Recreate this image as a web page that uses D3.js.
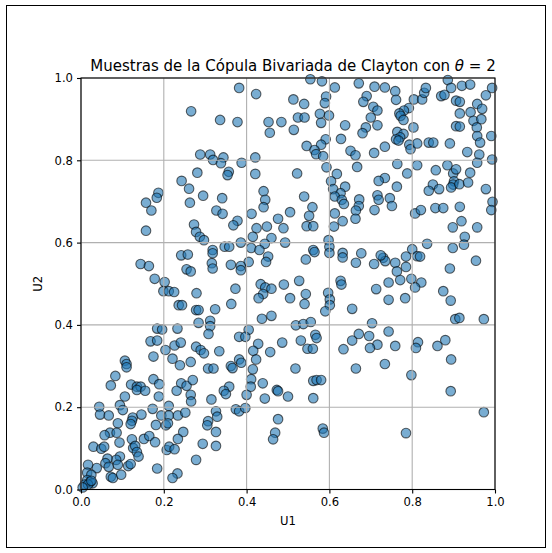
<!DOCTYPE html>
<html>
<head>
<meta charset="utf-8">
<script src="https://cdn.jsdelivr.net/npm/d3@7"></script>
<style>
  body { margin: 0; background: #fff; }
  svg text { font-family: "DejaVu Sans", sans-serif; fill: #000; }
</style>
</head>
<body>
<div id="chart"></div>
<script>
// chart text
const TITLE = "Muestras de la Cópula Bivariada de Clayton con ";
const X_LABEL = "U1";
const Y_LABEL = "U2";
const TICKS = [0.0, 0.2, 0.4, 0.6, 0.8, 1.0];

// samples [U1, U2]
const samples = [
[0.266,0.919],[0.288,0.814],[0.312,0.814],[0.319,0.801],[0.281,0.770],[0.243,0.750],[0.261,0.731],[0.187,0.721],
[0.183,0.709],[0.157,0.697],[0.170,0.678],[0.263,0.697],[0.295,0.714],[0.327,0.678],
[0.554,0.997],[0.582,0.992],[0.613,0.977],[0.382,0.976],[0.423,0.961],[0.513,0.948],[0.539,0.937],[0.592,0.955],
[0.589,0.939],[0.336,0.898],[0.378,0.893],[0.453,0.893],[0.484,0.893],[0.456,0.867],[0.514,0.874],[0.524,0.904],
[0.540,0.904],[0.577,0.913],[0.599,0.909],[0.580,0.891],[0.638,0.885],[0.628,0.852],[0.591,0.851],[0.580,0.838],
[0.545,0.835],[0.564,0.825],[0.568,0.815],[0.585,0.810],[0.651,0.823],[0.663,0.812],[0.344,0.807],[0.338,0.793],
[0.388,0.794],[0.421,0.807],[0.421,0.767],[0.357,0.772],[0.354,0.764],[0.522,0.768],[0.593,0.783],[0.618,0.767],
[0.604,0.749],[0.638,0.736],[0.609,0.730],[0.627,0.720],[0.613,0.712],[0.630,0.704],[0.635,0.694],[0.441,0.725],
[0.445,0.704],[0.441,0.686],[0.341,0.708],[0.342,0.670],[0.412,0.670],[0.476,0.658],[0.505,0.674],[0.539,0.712],
[0.559,0.686],[0.613,0.671],
[0.671,0.987],[0.709,0.979],[0.690,0.956],[0.682,0.942],[0.706,0.930],[0.716,0.921],[0.700,0.904],[0.716,0.885],
[0.688,0.880],[0.680,0.866],[0.734,0.977],[0.759,0.968],[0.761,0.947],[0.792,0.927],[0.780,0.921],[0.769,0.914],
[0.772,0.908],[0.779,0.898],[0.804,0.948],[0.824,0.948],[0.829,0.964],[0.833,0.976],[0.803,0.880],[0.764,0.869],
[0.779,0.864],[0.771,0.856],[0.761,0.851],[0.767,0.848],[0.734,0.833],[0.708,0.818],[0.793,0.838],[0.796,0.827],
[0.812,0.841],[0.840,0.843],[0.851,0.843],[0.891,0.841],[0.886,0.995],[0.870,0.956],[0.878,0.959],[0.894,0.976],
[0.920,0.981],[0.940,0.984],[0.993,0.976],[0.978,0.958],[0.906,0.945],[0.915,0.942],[0.957,0.937],[0.969,0.925],
[0.941,0.917],[0.915,0.914],[0.948,0.896],[0.967,0.900],[0.956,0.880],[0.906,0.883],[0.915,0.882],[0.957,0.859],
[0.964,0.843],[0.991,0.859],[0.933,0.820],[0.962,0.814],[0.957,0.794],[0.993,0.802],[0.667,0.784],[0.764,0.791],
[0.788,0.768],[0.812,0.788],[0.857,0.776],[0.885,0.788],[0.899,0.768],[0.906,0.778],[0.940,0.770],[0.734,0.757],
[0.719,0.750],[0.763,0.736],[0.850,0.741],[0.840,0.726],[0.865,0.730],[0.901,0.749],[0.899,0.741],[0.894,0.734],
[0.914,0.742],[0.935,0.746],[0.978,0.730],[0.716,0.715],[0.719,0.704],[0.746,0.708],[0.751,0.689],[0.672,0.705],
[0.671,0.689],[0.664,0.678],[0.709,0.679],[0.807,0.671],[0.821,0.679],[0.856,0.684],[0.875,0.684],[0.915,0.687],
[0.994,0.699],[0.991,0.679],
[0.157,0.629],[0.273,0.644],[0.278,0.626],[0.287,0.614],[0.297,0.606],[0.318,0.582],[0.318,0.574],[0.242,0.569],
[0.258,0.571],[0.144,0.548],[0.164,0.543],[0.316,0.550],[0.318,0.537],[0.255,0.535],[0.265,0.530],[0.178,0.512],
[0.202,0.504],[0.199,0.482],[0.212,0.482],[0.225,0.480],[0.279,0.477],[0.236,0.448],[0.244,0.448],[0.278,0.436],
[0.284,0.436],[0.324,0.438],[0.312,0.410],[0.284,0.405],[0.312,0.397],[0.308,0.378],[0.184,0.391],[0.196,0.389],
[0.233,0.391],[0.168,0.360],[0.184,0.362],[0.204,0.339],[0.226,0.350],[0.241,0.357],[0.278,0.347],[0.289,0.339],
[0.297,0.331],[0.334,0.336],
[0.551,0.665],[0.663,0.658],[0.632,0.652],[0.378,0.653],[0.368,0.642],[0.424,0.635],[0.449,0.639],[0.489,0.635],
[0.545,0.640],[0.561,0.640],[0.611,0.639],[0.415,0.614],[0.460,0.611],[0.493,0.600],[0.386,0.600],[0.444,0.597],
[0.347,0.590],[0.358,0.590],[0.411,0.587],[0.431,0.582],[0.452,0.566],[0.447,0.553],[0.405,0.553],[0.362,0.546],
[0.386,0.543],[0.386,0.533],[0.543,0.559],[0.561,0.582],[0.564,0.577],[0.598,0.606],[0.600,0.590],[0.600,0.575],
[0.632,0.575],[0.632,0.564],[0.664,0.551],[0.527,0.507],[0.490,0.498],[0.434,0.499],[0.445,0.491],[0.460,0.488],
[0.440,0.475],[0.429,0.465],[0.373,0.488],[0.505,0.465],[0.543,0.475],[0.540,0.451],[0.597,0.478],[0.601,0.462],
[0.601,0.448],[0.590,0.433],[0.627,0.507],[0.629,0.498],[0.655,0.439],[0.363,0.451],[0.437,0.415],[0.460,0.422],
[0.519,0.399],[0.537,0.402],[0.555,0.407],[0.405,0.388],[0.382,0.371],[0.397,0.371],[0.428,0.354],[0.486,0.357],
[0.531,0.362],[0.566,0.376],[0.569,0.368],[0.547,0.342],[0.560,0.342],[0.634,0.341],[0.655,0.362],[0.416,0.337],
[0.457,0.334],
[0.898,0.637],[0.919,0.652],[0.957,0.637],[0.927,0.614],[0.925,0.595],[0.898,0.587],[0.836,0.597],[0.800,0.584],
[0.812,0.567],[0.819,0.566],[0.785,0.566],[0.785,0.541],[0.759,0.551],[0.763,0.530],[0.730,0.563],[0.735,0.555],
[0.724,0.569],[0.708,0.548],[0.677,0.574],[0.954,0.556],[0.891,0.537],[0.771,0.509],[0.798,0.512],[0.822,0.503],
[0.807,0.491],[0.743,0.503],[0.713,0.487],[0.743,0.461],[0.783,0.465],[0.875,0.482],[0.893,0.459],[0.904,0.414],
[0.914,0.417],[0.973,0.414],[0.703,0.404],[0.671,0.378],[0.696,0.373],[0.743,0.384],[0.716,0.352],[0.698,0.344],
[0.759,0.349],[0.814,0.358],[0.809,0.344],[0.861,0.349],[0.880,0.363],
[0.106,0.313],[0.110,0.305],[0.110,0.297],[0.175,0.323],[0.221,0.318],[0.239,0.302],[0.265,0.310],[0.307,0.294],
[0.320,0.294],[0.083,0.276],[0.072,0.253],[0.121,0.255],[0.135,0.250],[0.144,0.250],[0.135,0.242],[0.155,0.240],
[0.175,0.268],[0.189,0.256],[0.242,0.258],[0.231,0.240],[0.255,0.252],[0.270,0.266],[0.265,0.230],[0.266,0.214],
[0.315,0.219],[0.106,0.226],[0.188,0.226],[0.044,0.201],[0.094,0.205],[0.101,0.193],[0.046,0.182],[0.067,0.180],
[0.125,0.175],[0.123,0.167],[0.146,0.182],[0.173,0.196],[0.194,0.180],[0.212,0.203],[0.212,0.180],[0.234,0.180],
[0.252,0.187],[0.326,0.190],[0.329,0.177],[0.089,0.161],[0.120,0.159],[0.181,0.157],[0.205,0.156],[0.210,0.161],
[0.070,0.138],[0.086,0.138],[0.057,0.132],[0.093,0.114],[0.123,0.122],[0.152,0.123],[0.165,0.130],[0.179,0.115],
[0.247,0.140],[0.234,0.123],[0.307,0.166],[0.305,0.156],[0.326,0.140],[0.294,0.111],[0.326,0.106],[0.030,0.104],
[0.049,0.099],[0.056,0.104],[0.126,0.101],[0.131,0.106],[0.135,0.091],[0.139,0.080],[0.207,0.096],[0.213,0.104],
[0.226,0.098],[0.278,0.072],[0.094,0.080],[0.085,0.072],[0.064,0.075],[0.059,0.064],[0.067,0.055],[0.089,0.060],
[0.114,0.057],[0.120,0.062],[0.038,0.052],[0.017,0.060],[0.015,0.041],[0.025,0.036],[0.072,0.031],[0.077,0.028],
[0.097,0.036],[0.184,0.051],[0.233,0.039],[0.221,0.028],[0.015,0.023],[0.022,0.018],[0.028,0.015],[0.009,0.012],
[0.017,0.012],[0.004,0.005],[0.025,0.021],
[0.664,0.294],[0.382,0.316],[0.387,0.308],[0.423,0.316],[0.362,0.300],[0.366,0.295],[0.415,0.292],[0.518,0.294],
[0.411,0.268],[0.410,0.250],[0.439,0.258],[0.358,0.250],[0.345,0.240],[0.350,0.232],[0.400,0.230],[0.473,0.242],
[0.476,0.239],[0.500,0.226],[0.444,0.221],[0.561,0.264],[0.569,0.266],[0.580,0.266],[0.561,0.222],[0.374,0.195],
[0.382,0.190],[0.397,0.198],[0.476,0.171],[0.469,0.138],[0.464,0.122],[0.584,0.148],[0.587,0.138],
[0.894,0.316],[0.734,0.305],[0.798,0.278],[0.893,0.239],[0.973,0.188],[0.785,0.137]
];

// frame
const W = 552, H = 553;
const PLOT = {left: 81, right: 495, top: 78, bottom: 489.5};

const svg = d3.select("#chart")
  .append("svg")
    .attr("width", W)
    .attr("height", H);

// thin border round the whole figure
svg.append("rect")
  .attr("x", 6.5).attr("y", 5.5)
  .attr("width", 539).attr("height", 542)
  .attr("fill", "none")
  .attr("stroke", "#000")
  .attr("stroke-width", 1);

const X_SCALE = d3.scaleLinear().domain([0, 1]).range([PLOT.left, PLOT.right]);
const Y_SCALE = d3.scaleLinear().domain([0, 1]).range([PLOT.bottom, PLOT.top]);

// points
svg.append("g")
  .selectAll("circle")
  .data(samples)
  .enter()
  .append("circle")
    .attr("cx", d => X_SCALE(d[0]))
    .attr("cy", d => Y_SCALE(d[1]))
    .attr("r", 4.8)
    .attr("fill", "#1f77b4")
    .attr("fill-opacity", 0.6)
    .attr("stroke", "#000")
    .attr("stroke-opacity", 0.6)
    .attr("stroke-width", 1.1);

// grid (matplotlib draws it over the points)
const grid = svg.append("g").attr("stroke", "#b0b0b0").attr("stroke-width", 1.1);
grid.selectAll(".gx")
  .data(TICKS)
  .enter()
  .append("line")
    .attr("x1", d => X_SCALE(d)).attr("x2", d => X_SCALE(d))
    .attr("y1", PLOT.top).attr("y2", PLOT.bottom);
grid.selectAll(".gy")
  .data(TICKS)
  .enter()
  .append("line")
    .attr("y1", d => Y_SCALE(d)).attr("y2", d => Y_SCALE(d))
    .attr("x1", PLOT.left).attr("x2", PLOT.right);

// axes
const xAxis = svg.append("g")
  .attr("transform", "translate(0," + PLOT.bottom + ")")
  .call(d3.axisBottom(X_SCALE).tickValues(TICKS).tickFormat(d3.format(".1f")).tickSize(4).tickPadding(4).tickSizeOuter(0));
const yAxis = svg.append("g")
  .attr("transform", "translate(" + PLOT.left + ",0)")
  .call(d3.axisLeft(Y_SCALE).tickValues(TICKS).tickFormat(d3.format(".1f")).tickSize(4).tickPadding(4).tickSizeOuter(0));

[xAxis, yAxis].forEach(a => {
  a.select(".domain").remove();
  a.selectAll(".tick line").attr("stroke", "#000").attr("stroke-width", 1.1);
  a.selectAll(".tick text")
    .attr("font-family", "DejaVu Sans")
    .attr("font-size", 11.6)
    .attr("fill", "#000");
});

// spines
svg.append("rect")
  .attr("x", PLOT.left).attr("y", PLOT.top)
  .attr("width", PLOT.right - PLOT.left)
  .attr("height", PLOT.bottom - PLOT.top)
  .attr("fill", "none")
  .attr("stroke", "#000")
  .attr("stroke-width", 1.1);

// labels
svg.append("text")
  .attr("x", (PLOT.left + PLOT.right) / 2)
  .attr("y", 525)
  .attr("text-anchor", "middle")
  .attr("font-size", 11.6)
  .text(X_LABEL);

svg.append("text")
  .attr("transform", "translate(42," + (PLOT.top + PLOT.bottom) / 2 + ") rotate(-90)")
  .attr("text-anchor", "middle")
  .attr("font-size", 11.6)
  .text(Y_LABEL);

const title = svg.append("text")
  .attr("x", (PLOT.left + PLOT.right) / 2 + 5)
  .attr("y", 71)
  .attr("text-anchor", "middle")
  .attr("font-size", 15);
title.append("tspan").text(TITLE);
title.append("tspan").attr("font-style", "italic").text("θ");
title.append("tspan").text(" = 2");
</script>
</body>
</html>
